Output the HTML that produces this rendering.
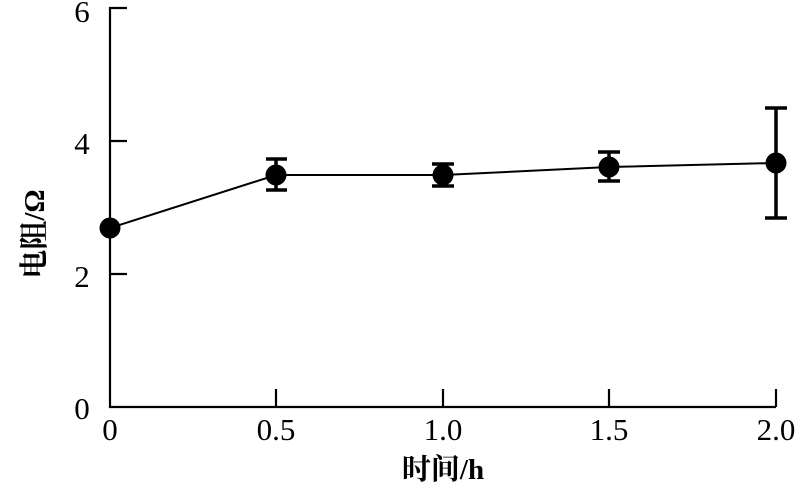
<!DOCTYPE html>
<html><head><meta charset="utf-8"><style>
html,body{margin:0;padding:0;background:#fff;}
text{font-family:"Liberation Serif","Noto Serif CJK SC",serif;fill:#000;}
</style></head><body>
<svg width="800" height="495" viewBox="0 0 800 495" xmlns="http://www.w3.org/2000/svg">
<g stroke="#000" stroke-width="2.2" fill="none">
<polyline points="127,8 110,8 110,407 776,407"/>
<line x1="110" y1="141" x2="127" y2="141"/>
<line x1="110" y1="274" x2="127" y2="274"/>
<line x1="276" y1="389" x2="276" y2="407"/>
<line x1="443" y1="389" x2="443" y2="407"/>
<line x1="609" y1="389" x2="609" y2="407"/>
<line x1="776" y1="389" x2="776" y2="407"/>
</g>
<polyline points="110,228 276,175 443,175 609,167 776,163" stroke="#000" stroke-width="2" fill="none"/>
<g stroke="#000" stroke-width="3.5">
<line x1="276" y1="159" x2="276" y2="190"/><line x1="266" y1="159" x2="287" y2="159"/><line x1="266" y1="190" x2="287" y2="190"/>
<line x1="443" y1="164" x2="443" y2="186"/><line x1="432" y1="164" x2="454" y2="164"/><line x1="432" y1="186" x2="454" y2="186"/>
<line x1="609" y1="152" x2="609" y2="181"/><line x1="598" y1="152" x2="620" y2="152"/><line x1="598" y1="181" x2="620" y2="181"/>
<line x1="776" y1="108" x2="776" y2="218"/><line x1="765" y1="108" x2="787" y2="108"/><line x1="765" y1="218" x2="787" y2="218"/>
</g>
<g fill="#000">
<circle cx="110" cy="228" r="10.5"/><circle cx="276" cy="175" r="10.5"/><circle cx="443" cy="175" r="10.5"/><circle cx="609" cy="167" r="10.5"/><circle cx="776" cy="163" r="10.5"/>
</g>
<g font-size="31" text-anchor="middle">
<text x="82" y="22">6</text><text x="82" y="154">4</text><text x="82" y="287">2</text><text x="82" y="419">0</text>
<text x="110" y="440">0</text><text x="276" y="440">0.5</text><text x="443" y="440">1.0</text><text x="609" y="440">1.5</text><text x="776" y="440">2.0</text>
<text x="443" y="479" font-size="29" font-weight="bold">时间/h</text>
<text transform="translate(44,234) rotate(-90)" font-size="29" font-weight="bold">电阻/Ω</text>
</g>
</svg>
</body></html>
